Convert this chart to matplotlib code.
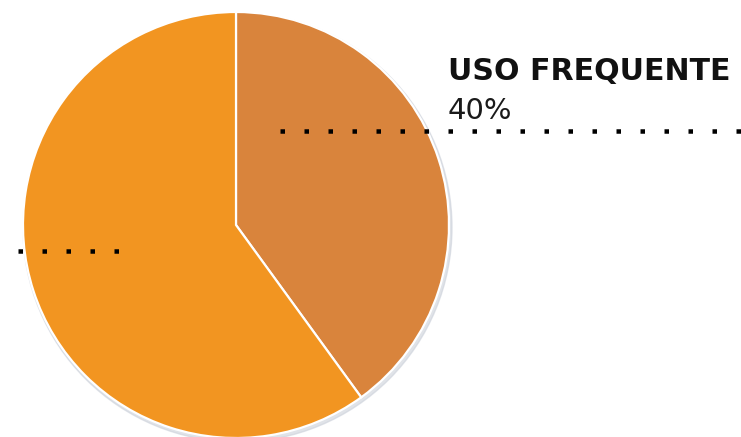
import numpy as np
import matplotlib
matplotlib.use("Agg")
import matplotlib.pyplot as plt
from matplotlib.patches import Circle

# usage split
labels = ["USO FREQUENTE", "OUTROS"]
shares = [40, 60]
colors = ["#D9843C", "#F29521"]

W, H, DPI = 741, 437, 100
PX = 72.0 / DPI  # points per pixel

fig = plt.figure(figsize=(W / DPI, H / DPI), dpi=DPI)
ax = fig.add_axes([0, 0, 1, 1])

cx, cy, r = 236, H - 225, 213

# soft drop shadow under the pie
ax.add_patch(Circle((cx + 1.5, cy - 2.5), r + 1.5, color="#ccd1da", alpha=0.6, zorder=0))

ax.pie(shares, colors=colors, startangle=90, counterclock=False,
       center=(cx, cy), radius=r, frame=True,
       wedgeprops=dict(edgecolor="white", linewidth=2.2 * PX))

ax.set_xlim(0, W)
ax.set_ylim(0, H)
ax.set_aspect("equal")
ax.axis("off")

# dotted leader lines, 4 px squares every 24 px
lw = 4.5
dot = dict(color="black", linewidth=lw * PX, linestyle=(0, (1, (24 - lw) / lw)),
           dash_capstyle="butt", solid_capstyle="butt", zorder=3)
ax.plot([280, W], [H - 131, H - 131], **dot)
ax.plot([18, 122], [H - 251, H - 251], **dot)

pct = shares[0] / sum(shares) * 100
ax.text(448, H - 80, labels[0], fontsize=30 * PX, fontweight="bold",
        family="DejaVu Sans", color="#111111", ha="left", va="baseline")
ax.text(448, H - 119, f"{pct:.0f}%", fontsize=29 * PX,
        family="DejaVu Sans", color="#1a1a1a", ha="left", va="baseline")

fig.savefig("out.png", dpi=DPI)
